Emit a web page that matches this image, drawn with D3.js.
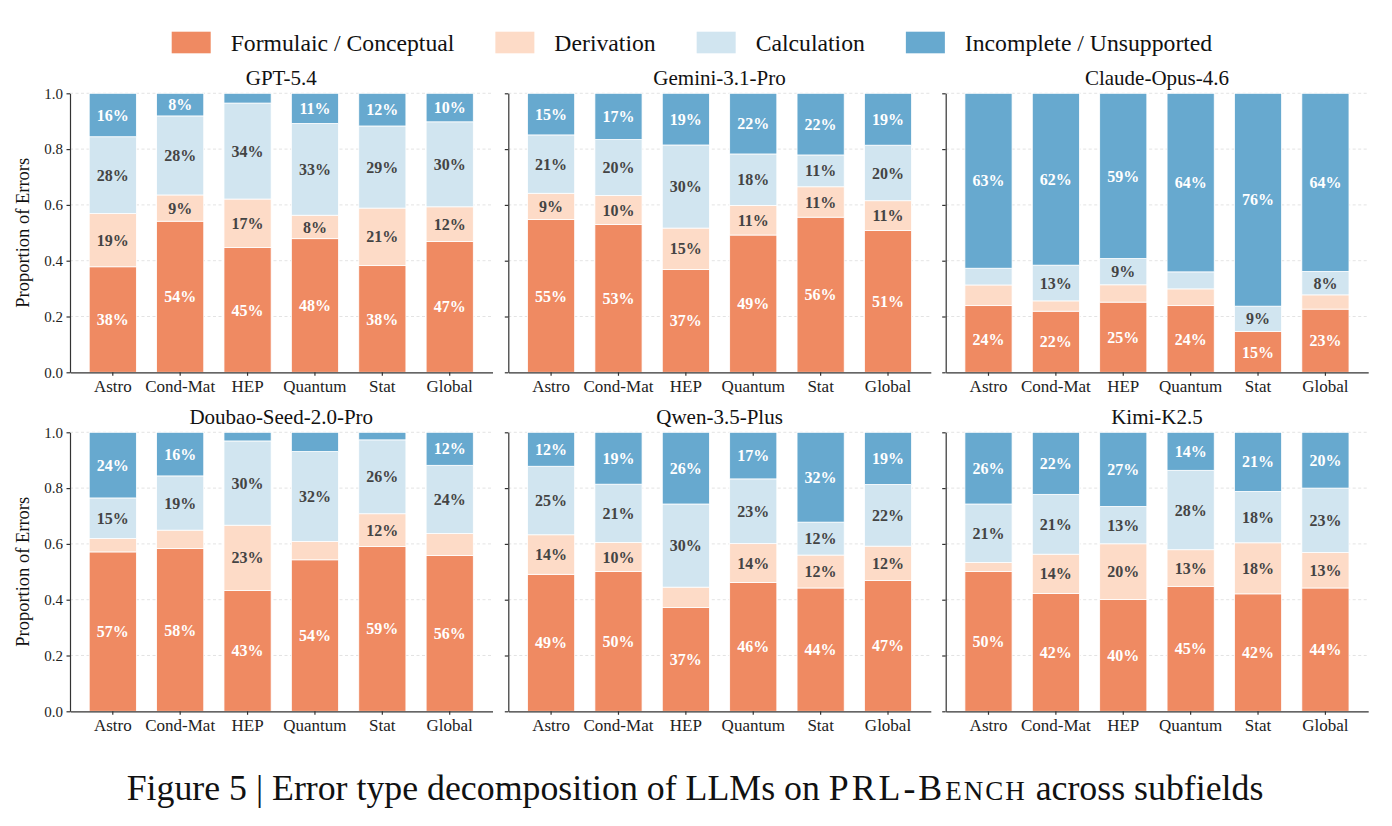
<!DOCTYPE html>
<html>
<head>
	<meta charset="utf-8" />
	<title>Error type decomposition</title>
	<script src="https://d3js.org/d3.v7.min.js"></script>
	<style>
		body { margin: 0; background: #fff; }
		svg { display: block; font-family: 'Liberation Serif', 'Times New Roman', serif; }
		.grid line { stroke: #dcdcdc; stroke-width: 0.8; stroke-dasharray: 3,2.5; }
		.axis path, .axis line { stroke: #333; stroke-width: 1.2; }
		.axis text { fill: #222; font-family: 'Liberation Serif', serif; }
	</style>
</head>
<body>
<script>
	// chart data: percent of errors per subfield, one row per model
	var models = ["GPT-5.4", "Gemini-3.1-Pro", "Claude-Opus-4.6", "Doubao-Seed-2.0-Pro", "Qwen-3.5-Plus", "Kimi-K2.5"];
	var subfields = ["Astro", "Cond-Mat", "HEP", "Quantum", "Stat", "Global"];
	var errorTypes = ["Formulaic / Conceptual", "Derivation", "Calculation", "Incomplete / Unsupported"];
	var yTicks = [0, 0.2, 0.4, 0.6, 0.8, 1.0];

	var formulaic = [
		[37.9, 54.1, 44.7, 47.9, 38.2, 46.8],
		[54.7, 53.0, 37.0, 49.1, 55.6, 50.8],
		[23.9, 21.9, 25.1, 23.9, 14.6, 22.6],
		[57.3, 58.2, 43.3, 54.3, 58.9, 55.7],
		[49.2, 50.1, 37.2, 46.2, 44.2, 46.9],
		[50.1, 42.1, 40.1, 44.7, 42.1, 44.2]
	];
	var derivation = [
		[19.1, 9.4, 17.4, 8.4, 20.6, 12.4],
		[9.4, 10.4, 14.9, 10.6, 10.9, 10.7],
		[7.4, 3.7, 6.2, 6.0, 0.0, 5.1],
		[4.8, 6.6, 23.4, 6.6, 11.7, 7.8],
		[14.2, 10.4, 7.3, 13.9, 11.8, 12.3],
		[3.2, 14.1, 20.0, 13.1, 18.3, 12.7]
	];
	var calculation = [
		[27.6, 28.3, 34.4, 32.9, 29.4, 30.4],
		[20.9, 20.1, 29.9, 18.4, 11.4, 19.9],
		[6.0, 12.8, 9.4, 6.1, 9.1, 8.4],
		[14.6, 19.4, 30.2, 32.2, 26.4, 24.4],
		[24.6, 20.9, 29.8, 23.2, 11.8, 22.1],
		[21.0, 21.4, 13.4, 28.4, 18.4, 23.1]
	];
	var incomplete = [
		[15.6, 8.1, 3.5, 10.8, 11.7, 10.2],
		[14.9, 16.6, 18.6, 21.7, 22.1, 18.6],
		[62.7, 61.6, 59.1, 64.0, 76.3, 63.7],
		[23.6, 15.6, 3.1, 6.9, 2.7, 11.8],
		[12.2, 18.6, 25.7, 16.7, 32.2, 18.7],
		[25.7, 22.2, 26.6, 13.6, 21.2, 20.0]
	];

	var series = [formulaic, derivation, calculation, incomplete];
	var colors = ["#ef8a62", "#fddbc7", "#d1e5f0", "#67a9cf"];
	var labelColors = ["#fff", "#444", "#444", "#fff"];

	var width = 1392, height = 826;
	var svg = d3.select("body").append("svg")
		.attr("width", width)
		.attr("height", height);
	svg.append("rect").attr("width", width).attr("height", height).attr("fill", "#fff");

	// panel geometry
	var colX = [70, 508.3, 945.7];
	var rowY = [93.3, 432.3];
	var panelW = 422.5, panelH = 279;

	var keys = d3.range(errorTypes.length);
	var stack = d3.stack().keys(keys).offset(d3.stackOffsetExpand);

	models.forEach(function(model, m) {
		var x0 = colX[m % 3], y0 = rowY[Math.floor(m / 3)];
		var g = svg.append("g").attr("transform", "translate(" + x0 + "," + y0 + ")");

		var x = d3.scaleBand().domain(subfields).range([0, panelW])
			.paddingInner(0.3).paddingOuter(0.285);
		var y = d3.scaleLinear().domain([0, 1]).range([panelH, 0]);

		// grid
		g.append("g").attr("class", "grid")
			.selectAll("line").data(yTicks.slice(1)).enter().append("line")
			.attr("x1", 0).attr("x2", panelW)
			.attr("y1", function(d) { return y(d); })
			.attr("y2", function(d) { return y(d); });

		var rows = subfields.map(function(s, i) {
			var r = { sub: s };
			keys.forEach(function(k) { r[k] = series[k][m][i]; });
			return r;
		});
		var layers = stack(rows);

		var layer = g.selectAll(".layer").data(layers).enter().append("g")
			.attr("fill", function(d) { return colors[d.key]; });

		layer.selectAll("rect").data(function(d) { return d; }).enter().append("rect")
			.attr("x", function(d) { return x(d.data.sub); })
			.attr("width", x.bandwidth())
			.attr("y", function(d) { return y(d[1]); })
			.attr("height", function(d) { return y(d[0]) - y(d[1]); })
			.attr("stroke", "#fff")
			.attr("stroke-width", 0.8);

		// labels for segments of 8% or more
		layers.forEach(function(L) {
			g.append("g").selectAll("text")
				.data(L.filter(function(d) { return d.data[L.key] >= 8; }))
				.enter().append("text")
				.attr("x", function(d) { return x(d.data.sub) + x.bandwidth() / 2; })
				.attr("y", function(d) { return y((d[0] + d[1]) / 2); })
				.attr("dy", "0.35em")
				.attr("text-anchor", "middle")
				.attr("font-weight", "bold")
				.attr("font-size", "16px")
				.attr("fill", labelColors[L.key])
				.text(function(d) { return Math.round(d.data[L.key]) + "%"; });
		});

		// axes
		var ya = d3.axisLeft(y).tickValues(yTicks).tickSize(3.5).tickPadding(3.5).tickSizeOuter(0)
			.tickFormat(m % 3 === 0 ? d3.format(".1f") : "");
		g.append("g").attr("class", "axis").call(ya)
			.selectAll("text").attr("font-size", "15px");

		g.append("g").attr("class", "axis")
			.attr("transform", "translate(0," + panelH + ")")
			.call(d3.axisBottom(x).tickSize(3.5).tickPadding(4.5).tickSizeOuter(0))
			.selectAll("text").attr("font-size", "17px");

		g.selectAll(".axis text").attr("font-family", "'Liberation Serif', serif");

		g.append("text")
			.attr("x", panelW / 2).attr("y", -8.5)
			.attr("text-anchor", "middle")
			.attr("font-size", "21px")
			.attr("fill", "#111")
			.text(model);

		if (m % 3 === 0) {
			g.append("text")
				.attr("transform", "translate(-41," + panelH / 2 + ") rotate(-90)")
				.attr("text-anchor", "middle")
				.attr("font-size", "18.5px")
				.attr("fill", "#111")
				.text("Proportion of Errors");
		}
	});

	// legend, laid out left to right
	var legend = svg.append("g").attr("transform", "translate(171.7,0)");
	var lx = 0;
	errorTypes.forEach(function(t, i) {
		var item = legend.append("g").attr("transform", "translate(" + lx + ",0)");
		item.append("rect").attr("x", 0).attr("y", 31.7).attr("width", 39).attr("height", 21.6)
			.attr("fill", colors[i]);
		var tx = item.append("text").attr("x", 59).attr("y", 50.5)
			.attr("font-size", "23.7px").attr("fill", "#111").text(t);
		lx += 59 + tx.node().getComputedTextLength() + 41;
	});

	// caption
	var cap = svg.append("text")
		.attr("x", 695).attr("y", 800)
		.attr("text-anchor", "middle")
		.attr("font-size", "35.8px")
		.attr("fill", "#111");
	cap.append("tspan").text("Figure 5 | Error type decomposition of LLMs on ");
	cap.append("tspan").attr("letter-spacing", "3px").text("PRL-B");
	cap.append("tspan").attr("font-size", "27px").attr("letter-spacing", "2px").text("ENCH");
	cap.append("tspan").text(" across subfields");
</script>
</body>
</html>
